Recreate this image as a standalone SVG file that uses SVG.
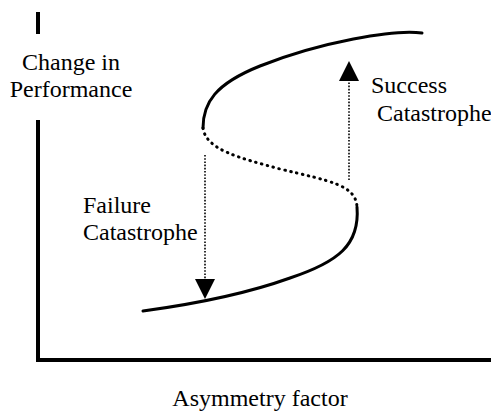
<svg xmlns="http://www.w3.org/2000/svg" width="491" height="419" viewBox="0 0 491 419">
  <style>
    text { font-family: "Liberation Serif", "Times New Roman", serif; font-size: 24px; fill: #000; }
    .axis { stroke: #000; stroke-width: 4; fill: none; }
    .solid { stroke: #000; stroke-width: 3; fill: none; stroke-linecap: round; }
    .dots { stroke: #000; stroke-width: 3; fill: none; stroke-linecap: round; stroke-dasharray: 0.6 5.4; }
    .guide { stroke: #000; stroke-width: 1.6; fill: none; stroke-dasharray: 1.6 1.6; }
    .head { fill: #000; }
  </style>

  <!-- axes -->
  <g id="axes">
    <line class="axis" x1="38" y1="12" x2="38" y2="34"/>
    <polyline class="axis" points="38,120 38,360 491,360"/>
  </g>

  <!-- S-shaped response curve: stable upper and lower branches, unstable middle -->
  <g id="curve">
    <path class="solid" d="M422,33 C395,29 320,42 260,66 C215,84 203,103 203,128"/>
    <path class="dots" d="M203,128 C206,150 240,158 280,169 C330,181 356,185 357,207"/>
    <path class="solid" d="M357,207 C360,245 338,262 290,278 C240,296 180,306 143,311"/>
  </g>

  <!-- jump transitions -->
  <g id="connectors">
    <g id="failure-jump">
      <line class="guide" x1="205" y1="155" x2="205" y2="281"/>
      <polygon class="head" points="195,279 215,279 205,299"/>
    </g>
    <g id="success-jump">
      <line class="guide" x1="349" y1="180" x2="349" y2="79"/>
      <polygon class="head" points="339,81 359,81 349,61"/>
    </g>
  </g>

  <g id="y-label">
    <text x="71" y="70" text-anchor="middle">Change in</text>
    <text x="71" y="97" text-anchor="middle">Performance</text>
  </g>
  <g id="failure-label">
    <text x="83" y="213">Failure</text>
    <text x="83" y="240">Catastrophe</text>
  </g>
  <g id="success-label">
    <text x="371" y="93">Success</text>
    <text x="377" y="121">Catastrophe</text>
  </g>
  <g id="x-label">
    <text x="260" y="406" text-anchor="middle">Asymmetry factor</text>
  </g>
</svg>
